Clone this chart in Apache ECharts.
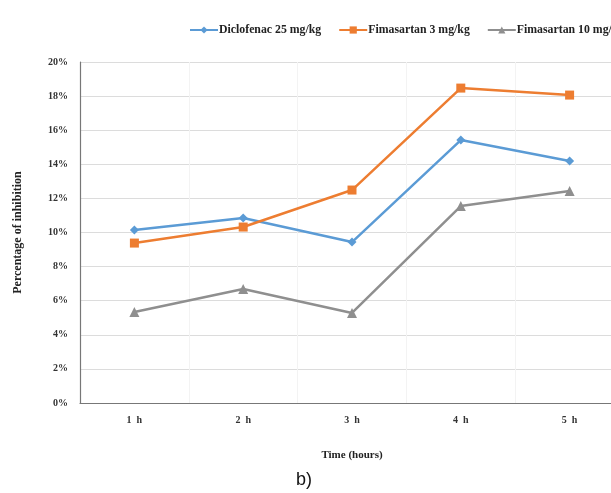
<!DOCTYPE html>
<html><head><meta charset="utf-8">
<style>html,body{margin:0;padding:0;background:#fff;overflow:hidden;width:611px;height:493px}#c{width:660px;height:493px}</style>
<script src="https://cdn.jsdelivr.net/npm/echarts@6/dist/echarts.min.js"></script>
</head><body><div id="c"></div>
<script>
const categories = ['1  h','2  h','3  h','4  h','5  h'];
const diclofenac = [10.15, 10.85, 9.44, 15.42, 14.19];
const fima3 = [9.38, 10.32, 12.49, 18.47, 18.06];
const fima10 = [5.34, 6.69, 5.28, 11.55, 12.43];
const yTicks = {min: 0, max: 20, interval: 2};

const serif = 'Liberation Serif';
const chart = echarts.init(document.getElementById('c'));
chart.setOption({
  animation: false,
  backgroundColor: '#fff',
  textStyle: {fontFamily: serif},
  legend: {
    left: 184, top: 19, width: 470, itemWidth: 28, itemHeight: 9, itemGap: 17,
    textStyle: {fontFamily: serif, fontWeight: 'bold', fontSize: 11.8, color: '#222', padding: [0,0,0,-4]},
    data: ['Diclofenac 25 mg/kg','Fimasartan 3 mg/kg','Fimasartan 10 mg/kg']
  },
  graphic: [{type: 'text', left: 296, top: 471, style: {text: 'b)', font: '18px "Liberation Sans"', fill: '#111'}}],
  grid: {left: 80, top: 62, width: 544, height: 341, containLabel: false},
  xAxis: {
    type: 'category', data: categories, boundaryGap: true,
    name: 'Time (hours)', nameLocation: 'middle', nameGap: 47,
    nameTextStyle: {fontFamily: serif, fontWeight: 'bold', fontSize: 11, color: '#222'},
    axisLine: {lineStyle: {color: '#777', width: 1.2}},
    axisTick: {show: false},
    axisLabel: {margin: 12, fontFamily: serif, fontWeight: 'bold', fontSize: 10, color: '#333'},
    splitLine: {show: true, lineStyle: {color: '#f3f3f3'}}
  },
  yAxis: {
    type: 'value', min: yTicks.min, max: yTicks.max, interval: yTicks.interval,
    name: 'Percentage of inhibition', nameLocation: 'middle', nameGap: 56,
    nameTextStyle: {fontFamily: serif, fontWeight: 'bold', fontSize: 12, color: '#222'},
    axisLine: {show: true, lineStyle: {color: '#777', width: 1.2}},
    axisTick: {show: false},
    axisLabel: {margin: 12, fontFamily: serif, fontWeight: 'bold', fontSize: 10, color: '#333', formatter: v => v + '%'},
    splitLine: {lineStyle: {color: '#dcdcdc'}}
  },
  series: [
    {name: 'Diclofenac 25 mg/kg', type: 'line', data: diclofenac, symbol: 'diamond', symbolSize: 9,
     lineStyle: {color: '#5B9BD5', width: 2.5}, itemStyle: {color: '#5B9BD5'}},
    {name: 'Fimasartan 3 mg/kg', type: 'line', data: fima3, symbol: 'rect', symbolSize: 9,
     lineStyle: {color: '#ED7D31', width: 2.5}, itemStyle: {color: '#ED7D31'}},
    {name: 'Fimasartan 10 mg/kg', type: 'line', data: fima10, symbol: 'triangle', symbolSize: 10,
     lineStyle: {color: '#8f8f8f', width: 2.5}, itemStyle: {color: '#8f8f8f'}}
  ]
});
</script></body></html>
